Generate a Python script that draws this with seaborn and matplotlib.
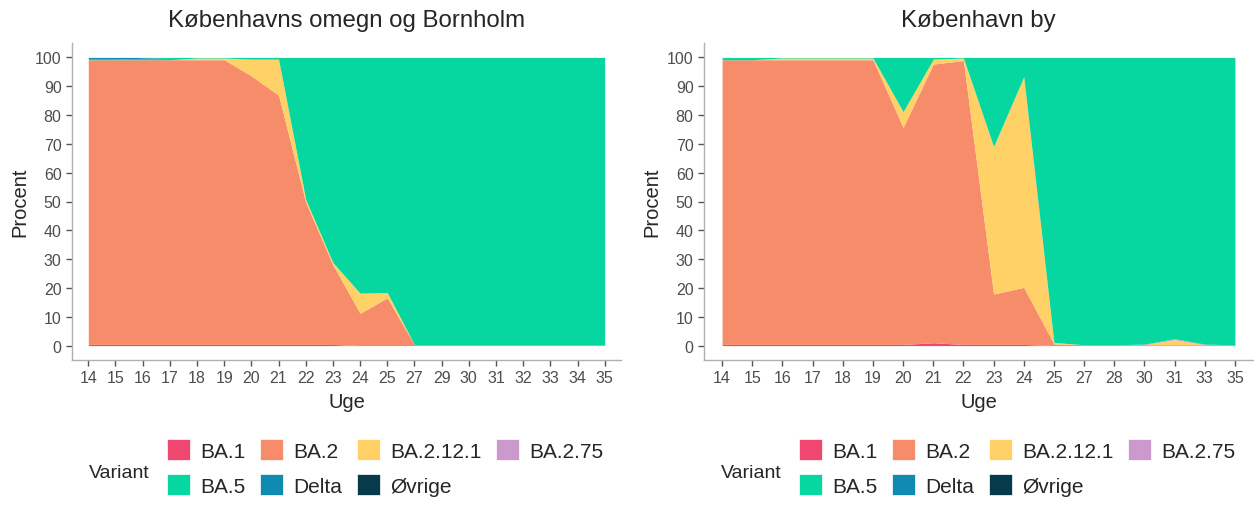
import numpy as np
import matplotlib
matplotlib.use("Agg")
import matplotlib.pyplot as plt
from matplotlib.patches import Patch
import seaborn as sns

# Varianter og farver
varianter = ["BA.1", "BA.2", "BA.2.12.1", "BA.2.75", "BA.5", "Delta", "Øvrige"]
farver = ["#EF476F", "#F78C6B", "#FFD166", "#CC99CC", "#06D6A0", "#118AB2", "#073B4C"]

# Københavns omegn og Bornholm
uger_omegn = [14, 15, 16, 17, 18, 19, 20, 21, 22, 23, 24, 25, 27, 29, 30, 31, 32, 33, 34, 35]
omegn_ba1 = [0.4, 0.4, 0.4, 0.4, 0.4, 0.4, 0.4, 0.4, 0.4, 0.4, 0, 0, 0, 0, 0, 0, 0, 0, 0, 0]
omegn_ba2 = [98.8, 98.8, 98.8, 98.8, 98.8, 98.8, 93.2, 86.5, 49.3, 27.6, 11.2, 16.6, 0.3, 0.3, 0.3, 0.3, 0.3, 0.3, 0.3, 0.3]
omegn_ba2121 = [0, 0, 0, 0, 0.6, 0.6, 5.8, 12.5, 1.0, 0.8, 7.0, 1.8, 0, 0, 0, 0, 0, 0, 0, 0]
omegn_ba275 = [0] * 20
omegn_ba5 = [0.2, 0.2, 0.5, 0.8, 0.2, 0.2, 0.6, 0.6, 49.3, 71.2, 81.8, 81.6, 99.7, 99.7, 99.7, 99.7, 99.7, 99.7, 99.7, 99.7]
omegn_delta = [0.6, 0.6, 0.3, 0, 0, 0, 0, 0, 0, 0, 0, 0, 0, 0, 0, 0, 0, 0, 0, 0]
omegn_ovrige = [0] * 20

# København by
uger_by = [14, 15, 16, 17, 18, 19, 20, 21, 22, 23, 24, 25, 27, 28, 30, 31, 33, 35]
by_ba1 = [0.4, 0.4, 0.4, 0.4, 0.4, 0.4, 0.4, 1.0, 0.4, 0.4, 0.4, 0, 0, 0, 0, 0, 0, 0]
by_ba2 = [98.8, 98.8, 98.8, 98.8, 98.8, 98.8, 75.3, 96.7, 98.5, 17.5, 19.8, 0.6, 0.3, 0.3, 0.3, 0.3, 0.3, 0.3]
by_ba2121 = [0, 0, 0.6, 0.6, 0.6, 0.6, 5.5, 1.7, 0.9, 51.2, 73.1, 0.5, 0, 0, 0, 1.8, 0, 0]
by_ba275 = [0, 0, 0, 0, 0, 0, 0, 0, 0, 0, 0, 0, 0, 0, 0.2, 0.3, 0.2, 0]
by_ba5 = [0.8, 0.8, 0.2, 0.2, 0.2, 0.2, 18.8, 0.6, 0.2, 30.9, 6.7, 98.9, 99.7, 99.7, 99.5, 97.6, 99.5, 99.7]
by_delta = [0] * 18
by_ovrige = [0] * 18

sns.set_theme(style="ticks")
plt.rcParams["font.family"] = ["Liberation Sans", "DejaVu Sans"]

fig = plt.figure(figsize=(12.54, 5.06), dpi=100)
ax1 = fig.add_axes([72 / 1254, 145 / 506, 549 / 1254, 317 / 506])
ax2 = fig.add_axes([704 / 1254, 145 / 506, 549 / 1254, 317 / 506])

paneler = [
    (ax1, "Københavns omegn og Bornholm", uger_omegn,
     [omegn_ba1, omegn_ba2, omegn_ba2121, omegn_ba275, omegn_ba5, omegn_delta, omegn_ovrige]),
    (ax2, "København by", uger_by,
     [by_ba1, by_ba2, by_ba2121, by_ba275, by_ba5, by_delta, by_ovrige]),
]

for ax, titel, uger, serier in paneler:
    x = np.arange(len(uger))
    ax.stackplot(x, *serier, colors=farver, linewidth=0)
    ax.set_xlim(-0.6, len(uger) - 0.4)
    ax.set_ylim(-5, 105)
    ax.set_xticks(x)
    ax.set_xticklabels([str(u) for u in uger])
    ax.set_yticks(range(0, 101, 10))
    ax.tick_params(colors="#555555", labelcolor="#4d4d4d", labelsize=11.5, length=4, width=1)
    sns.despine(ax=ax)
    for s in ["left", "bottom"]:
        ax.spines[s].set_color("#b0b0b0")
        ax.spines[s].set_linewidth(1)
    ax.set_title(titel, fontsize=17.3, pad=12)
    ax.set_xlabel("Uge", fontsize=14.5, labelpad=5)
    ax.set_ylabel("Procent", fontsize=14.5, labelpad=4)

    # legende under panelet, rækkevis som i originalen
    rækkefølge = [0, 4, 1, 5, 2, 6, 3]
    handles = [Patch(facecolor=farver[i], edgecolor="white", linewidth=0.5) for i in rækkefølge]
    labels = [varianter[i] for i in rækkefølge]
    ax.legend(handles, labels, ncol=4, frameon=False, fontsize=15,
              loc="upper left", bbox_to_anchor=(0.173, -0.25),
              handlelength=1.1, handleheight=1.15, handletextpad=0.5,
              columnspacing=0.7, labelspacing=0.65, borderaxespad=0, borderpad=0)
    ax.text(0.03, -0.355, "Variant", transform=ax.transAxes, fontsize=14, va="center", ha="left")

fig.savefig("out.png", dpi=100)
